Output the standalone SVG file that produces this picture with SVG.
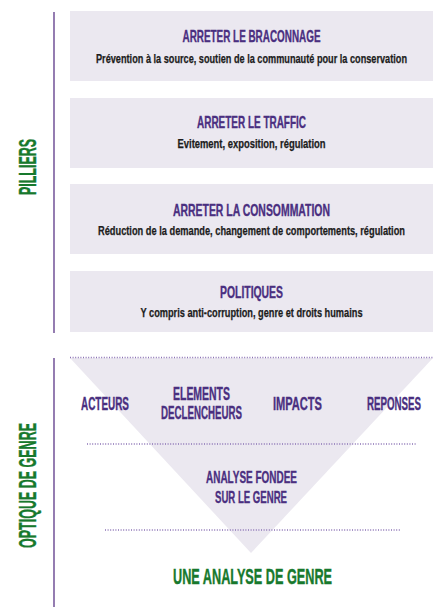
<svg xmlns="http://www.w3.org/2000/svg" width="438" height="607" viewBox="0 0 438 607">
  <style>
    .box { fill: #ebe8f0; }
    .rule { stroke: #7a5c9e; stroke-width: 1.6; fill: none; }
    .dots { stroke: #8b72b5; stroke-width: 1.3; stroke-dasharray: 1 1.6; fill: none; }
    .ttl { font-family: "Liberation Sans", "DejaVu Sans", sans-serif; font-weight: bold; fill: #4a2f80; stroke: #4a2f80; stroke-width: 0.35; text-anchor: middle; }
    .sub { font-family: "Liberation Sans", "DejaVu Sans", sans-serif; font-weight: bold; fill: #1c1c1c; stroke: #1c1c1c; stroke-width: 0.25; text-anchor: middle; }
    .grn { font-family: "Liberation Sans", "DejaVu Sans", sans-serif; font-weight: bold; fill: #17792d; stroke: #17792d; stroke-width: 0.4; text-anchor: middle; }
  </style>

  <!-- side rules -->
  <g id="rules">
    <line class="rule" x1="54" y1="12" x2="54" y2="333"/>
    <line class="rule" x1="54" y1="358" x2="54" y2="607"/>
  </g>

  <!-- side labels -->
  <g id="label-pilliers">
    <text class="grn" font-size="23" transform="translate(36 167) rotate(-90)" textLength="56" lengthAdjust="spacingAndGlyphs">PILLIERS</text>
  </g>
  <g id="label-optique">
    <text class="grn" font-size="23" transform="translate(36 485.5) rotate(-90)" textLength="125" lengthAdjust="spacingAndGlyphs">OPTIQUE DE GENRE</text>
  </g>

  <!-- pillar boxes -->
  <g id="pillar-braconnage">
    <rect class="box" x="70" y="11" width="363" height="70"/>
    <text class="ttl" x="251.5" y="42" font-size="16.5" textLength="138" lengthAdjust="spacingAndGlyphs">ARRETER LE BRACONNAGE</text>
    <text class="sub" x="251.5" y="63" font-size="12.5" textLength="311" lengthAdjust="spacingAndGlyphs">Prévention à la source, soutien de la communauté pour la conservation</text>
  </g>
  <g id="pillar-traffic">
    <rect class="box" x="70" y="98" width="363" height="70"/>
    <text class="ttl" x="251.5" y="128" font-size="16.5" textLength="109" lengthAdjust="spacingAndGlyphs">ARRETER LE TRAFFIC</text>
    <text class="sub" x="251.5" y="148" font-size="12.5" textLength="148" lengthAdjust="spacingAndGlyphs">Evitement, exposition, régulation</text>
  </g>
  <g id="pillar-consommation">
    <rect class="box" x="70" y="184" width="363" height="70"/>
    <text class="ttl" x="251.5" y="216" font-size="16.5" textLength="157" lengthAdjust="spacingAndGlyphs">ARRETER LA CONSOMMATION</text>
    <text class="sub" x="251.5" y="235" font-size="12.5" textLength="307" lengthAdjust="spacingAndGlyphs">Réduction de la demande, changement de comportements, régulation</text>
  </g>
  <g id="pillar-politiques">
    <rect class="box" x="70" y="271" width="363" height="61"/>
    <text class="ttl" x="251.5" y="298" font-size="16.5" textLength="63" lengthAdjust="spacingAndGlyphs">POLITIQUES</text>
    <text class="sub" x="251.5" y="317" font-size="12.5" textLength="222" lengthAdjust="spacingAndGlyphs">Y compris anti-corruption, genre et droits humains</text>
  </g>

  <!-- gender lens funnel -->
  <g id="funnel">
    <polygon points="70,358 433,358 251,553" fill="#ebe8f0"/>
  </g>

  <g id="connectors">
    <line class="dots" x1="70" y1="357.5" x2="433" y2="357.5"/>
    <line class="dots" x1="87" y1="444" x2="417" y2="444"/>
    <line class="dots" x1="105" y1="530" x2="400" y2="530"/>
  </g>

  <g id="acteurs">
    <text class="ttl" x="105" y="410" font-size="17.5" textLength="48" lengthAdjust="spacingAndGlyphs">ACTEURS</text>
  </g>
  <g id="elements">
    <text class="ttl" x="201.5" y="400" font-size="17.5" textLength="57" lengthAdjust="spacingAndGlyphs">ELEMENTS</text>
    <text class="ttl" x="201.5" y="419" font-size="17.5" textLength="81" lengthAdjust="spacingAndGlyphs">DECLENCHEURS</text>
  </g>
  <g id="impacts">
    <text class="ttl" x="297.5" y="410" font-size="17.5" textLength="49" lengthAdjust="spacingAndGlyphs">IMPACTS</text>
  </g>
  <g id="reponses">
    <text class="ttl" x="394" y="410" font-size="17.5" textLength="54" lengthAdjust="spacingAndGlyphs">REPONSES</text>
  </g>
  <g id="analyse-fondee">
    <text class="ttl" x="251.5" y="483" font-size="16.5" textLength="91" lengthAdjust="spacingAndGlyphs">ANALYSE FONDEE</text>
    <text class="ttl" x="251" y="503" font-size="16.5" textLength="72" lengthAdjust="spacingAndGlyphs">SUR LE GENRE</text>
  </g>

  <g id="result">
    <text class="grn" x="252.5" y="584" font-size="22" textLength="159" lengthAdjust="spacingAndGlyphs">UNE ANALYSE DE GENRE</text>
  </g>
</svg>
